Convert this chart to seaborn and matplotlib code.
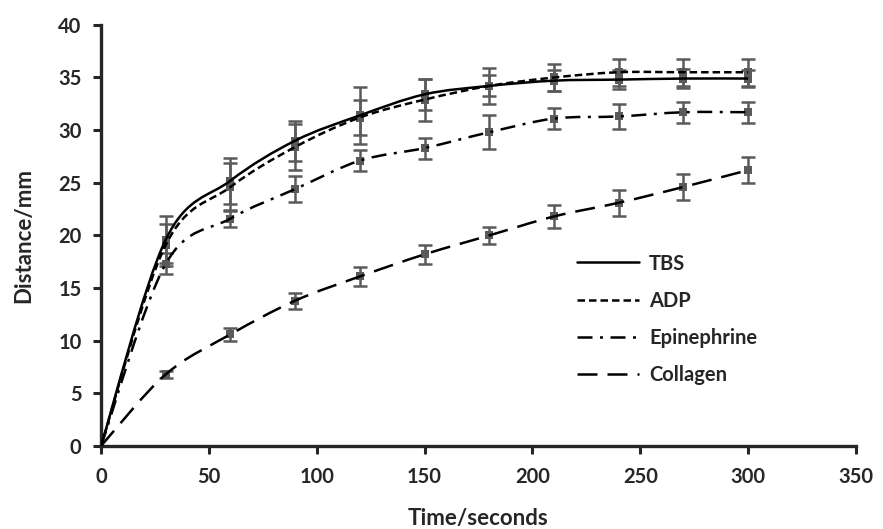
import numpy as np
import pandas as pd
import matplotlib
matplotlib.use("Agg")
import matplotlib.pyplot as plt
from matplotlib.path import Path
from matplotlib.patches import PathPatch
from matplotlib.lines import Line2D
import seaborn as sns

# Sampling times (s)
time_s = [0, 30, 60, 90, 120, 150, 180, 210, 240, 270, 300]

# Mean travelled distance (mm) for each treatment
tbs = [0, 19.6, 25.2, 29.0, 31.4, 33.4, 34.2, 34.7, 34.8, 34.9, 34.9]
adp = [0, 19.1, 24.6, 28.4, 31.2, 32.9, 34.2, 35.0, 35.5, 35.5, 35.5]
epinephrine = [0, 17.3, 21.6, 24.4, 27.1, 28.3, 29.8, 31.1, 31.3, 31.7, 31.7]
collagen = [0, 6.8, 10.6, 13.8, 16.1, 18.2, 20.0, 21.8, 23.1, 24.6, 26.2]

# Error bar half-widths (mm)
tbs_err = [0, 2.2, 2.2, 1.9, 2.7, 1.5, 1.0, 1.0, 0.9, 0.9, 0.8]
adp_err = [0, 2.0, 2.3, 2.2, 1.7, 2.0, 1.7, 1.3, 1.3, 1.3, 1.3]
epinephrine_err = [0, 1.0, 0.8, 1.2, 1.0, 1.0, 1.6, 1.0, 1.2, 1.0, 1.0]
collagen_err = [0, 0.3, 0.6, 0.75, 0.9, 0.9, 0.8, 1.05, 1.25, 1.2, 1.25]

series_names = ["TBS", "ADP", "Epinephrine", "Collagen"]
x_ticks = [0, 50, 100, 150, 200, 250, 300, 350]
y_ticks = [0, 5, 10, 15, 20, 25, 30, 35, 40]

means = {"TBS": tbs, "ADP": adp, "Epinephrine": epinephrine, "Collagen": collagen}
errors = {"TBS": tbs_err, "ADP": adp_err, "Epinephrine": epinephrine_err,
          "Collagen": collagen_err}
line_styles = {
    "TBS": "-",
    "ADP": (0, (3.0, 1.6)),
    "Epinephrine": (0, (6.0, 3.0, 1.2, 3.0)),
    "Collagen": (0, (8.0, 4.0)),
}

rows = []
for name in series_names:
    for t, m, e in zip(time_s, means[name], errors[name]):
        rows.append({"time": t, "distance": m, "err": e, "treatment": name})
df = pd.DataFrame(rows)

sns.set_style("ticks")
plt.rcParams["font.family"] = ["Lato", "DejaVu Sans"]
plt.rcParams["font.weight"] = "bold"

fig = plt.figure(figsize=(8.83, 5.29), dpi=100)
ax = fig.add_axes([0.1144, 0.157, 0.855, 0.796])

marker_grey = "#5a5a5a"


def smooth_path(xs, ys):
    """Bezier path through the points, in the style of a smoothed line chart."""
    pts = np.column_stack([xs, ys]).astype(float)
    n = len(pts)
    verts = [pts[0]]
    codes = [Path.MOVETO]
    for i in range(n - 1):
        p0 = pts[i - 1] if i > 0 else pts[i]
        p1 = pts[i]
        p2 = pts[i + 1]
        p3 = pts[i + 2] if i + 2 < n else pts[i + 1]
        c1 = p1 + (p2 - p0) / 6.0
        c2 = p2 - (p3 - p1) / 6.0
        verts += [c1, c2, p2]
        codes += [Path.CURVE4] * 3
    return Path(verts, codes)


for name in series_names:
    sub = df[df["treatment"] == name]
    pts = sub[sub["time"] > 0]
    ax.errorbar(pts["time"], pts["distance"], yerr=pts["err"], fmt="none",
                ecolor=marker_grey, elinewidth=1.8, capsize=5, capthick=1.8,
                zorder=2)
    sns.scatterplot(data=pts, x="time", y="distance", marker="s", s=40,
                    color=marker_grey, edgecolor=marker_grey, linewidth=0,
                    ax=ax, zorder=3, legend=False)
    patch = PathPatch(smooth_path(sub["time"].values, sub["distance"].values),
                      facecolor="none", edgecolor="black", linewidth=1.8,
                      linestyle=line_styles[name], zorder=4, capstyle="butt")
    ax.add_patch(patch)

ax.set_xlim(0, 350)
ax.set_ylim(0, 40)
ax.set_xticks(x_ticks)
ax.set_yticks(y_ticks)
ax.tick_params(axis="both", direction="out", length=6, width=2.2,
               labelsize=14.5)
ax.tick_params(axis="x", pad=9)
ax.tick_params(axis="y", pad=8)
for lab in ax.get_xticklabels() + ax.get_yticklabels():
    lab.set_fontweight("bold")
for side in ["left", "bottom"]:
    ax.spines[side].set_linewidth(2.4)
for side in ["top", "right"]:
    ax.spines[side].set_visible(False)

ax.set_xlabel("Time/seconds", fontsize=16, fontweight="bold", labelpad=15)
ax.set_ylabel("Distance/mm", fontsize=16, fontweight="bold", labelpad=17)

handles = [Line2D([0], [0], color="black", linewidth=1.8,
                  linestyle=line_styles[name]) for name in series_names]
leg = ax.legend(handles, series_names, loc="upper left",
                bbox_to_anchor=(0.63, 0.457), frameon=False,
                handlelength=3.1, handletextpad=0.5, labelspacing=0.85,
                borderaxespad=0, borderpad=0,
                prop={"weight": "bold", "size": 14.5})

fig.savefig("out.png", dpi=100)
